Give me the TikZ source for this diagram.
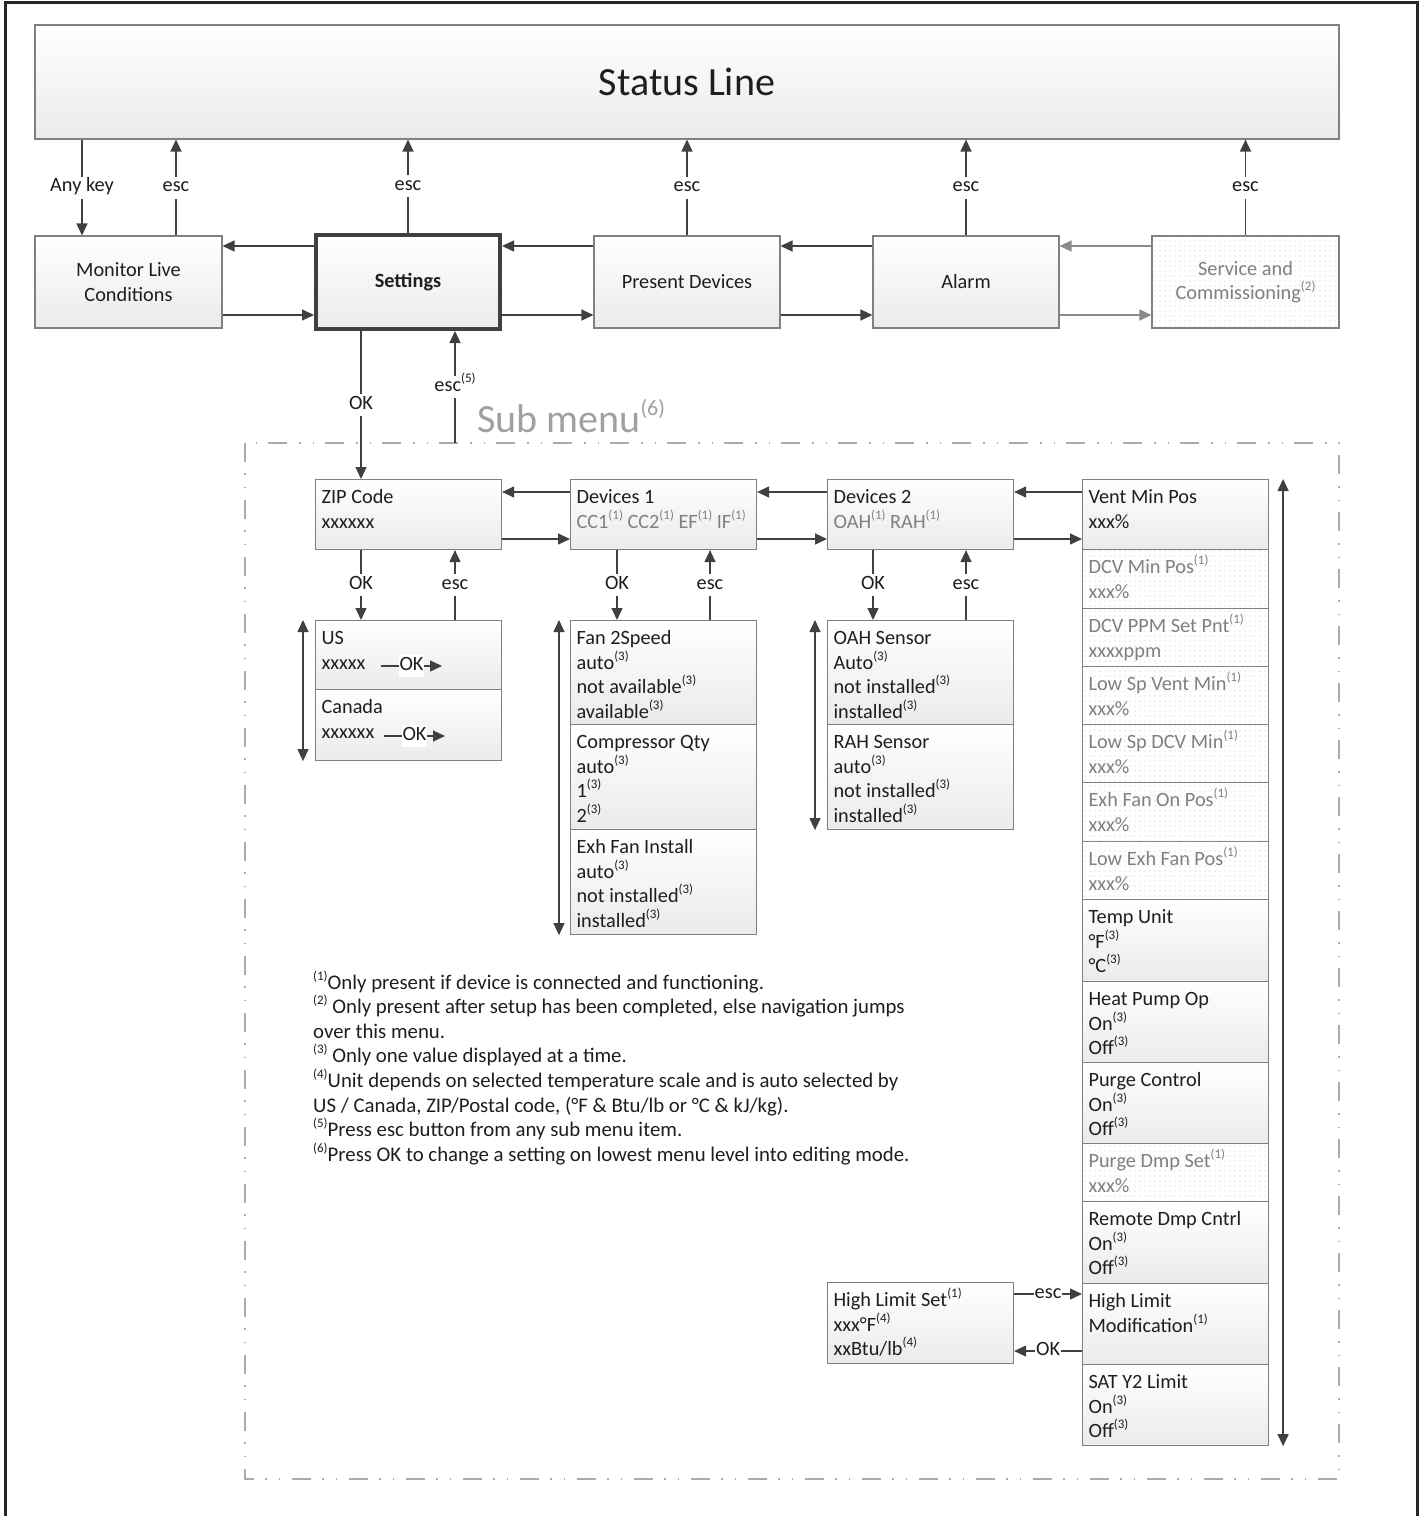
\documentclass[tikz,border=0pt]{standalone}
\usepackage{fontspec}
\setmainfont{Carlito}
\usetikzlibrary{arrows.meta,patterns.meta}
\definecolor{bordc}{HTML}{808080}
\definecolor{txtc}{HTML}{1E1E1E}
\definecolor{graytxt}{HTML}{808080}
\definecolor{arrc}{HTML}{404040}
\definecolor{lightarr}{HTML}{8A8A8A}
\definecolor{dashc}{HTML}{ABABAB}
\definecolor{framec}{HTML}{262626}
\definecolor{submc}{HTML}{A0A0A0}
\newcommand{\ssup}[1]{\raisebox{9pt}{\fontsize{13}{13}\selectfont(#1)}}
\newcommand{\mnbox}[7]{\node[#6] (#1) at (#2,#3) {\parbox[c][#5pt][t]{#4pt}{\leftskip=6pt\relax\rule{0pt}{24pt}#7}};}
\tikzset{
  base/.style={inner sep=0pt, font=\fontsize{20.3}{24.5}\selectfont, text=txtc},
  shadebox/.style={base, draw=bordc, line width=1.1pt, top color=white, bottom color=black!8},
  dotfill/.style={base, draw=bordc, line width=1.1pt, fill=white,
     postaction={pattern={Dots[distance=5pt,radius=0.55pt]}, pattern color=black!22}, text=graytxt},
  mbox/.style={shadebox, anchor=north west},
  dbox/.style={dotfill, anchor=north west},
  cbox/.style={shadebox, align=center, minimum height=92pt},
  arr/.style={draw=arrc, line width=1.3pt, -{Triangle[length=12pt,width=11pt]}},
  arrl/.style={draw=lightarr, line width=1.3pt, -{Triangle[length=12pt,width=11pt]}},
  darr/.style={draw=arrc, line width=1.3pt, {Triangle[length=12pt,width=11pt]}-{Triangle[length=12pt,width=11pt]}},
  lbl/.style={base, fill=white, inner xsep=2pt, inner ysep=3pt, text height=12pt, text depth=4pt},
  subframe/.style={draw=dashc, line width=2.6pt, dash pattern=on 19pt off 11pt on 1.5pt off 12pt on 1.5pt off 12pt},
}
\begin{document}
\begin{tikzpicture}[x=1pt,y=-1pt]
\useasboundingbox (0,0) rectangle (1422,1516);
% outer frame
\draw[framec, line width=3pt] (5.5,1516) -- (5.5,2.5) -- (1417,2.5) -- (1417,1516);

% status line
\node[shadebox, minimum width=1304pt, minimum height=114pt, font=\fontsize{40}{48}\selectfont] (status) at (687,82) {Status Line};

% top row
\node[cbox, minimum width=187pt] (monitor) at (128.5,282) {Monitor Live\\Conditions};
\node[cbox, draw=arrc, line width=4pt, minimum width=184pt, minimum height=94pt, font=\fontsize{20.3}{24.5}\selectfont\bfseries] (settings) at (408,282) {Settings};
\node[cbox, minimum width=186pt] (present) at (687,282) {Present Devices};
\node[cbox, minimum width=186pt] (alarm) at (966,282) {Alarm};
\node[dotfill, align=center, minimum width=187pt, minimum height=92pt] (service) at (1245.5,282) {Service and\\Commissioning\ssup{2}};

\draw[arr] (status.south -| 82,0) -- node[lbl]{Any key} (monitor.north -| 82,0);
\draw[arr] (monitor.north -| 176,0) -- node[lbl]{esc} (status.south -| 176,0);
\draw[arr] (settings.north) -- node[lbl]{esc} (status.south -| settings.north);
\draw[arr] (present.north) -- node[lbl]{esc} (status.south -| present.north);
\draw[arr] (alarm.north) -- node[lbl]{esc} (status.south -| alarm.north);
\draw[arr] (service.north) -- node[lbl]{esc} (status.south -| service.north);

\draw[arr] (settings.west |- 0,246) -- (monitor.east |- 0,246);
\draw[arr] (monitor.east |- 0,315) -- (settings.west |- 0,315);
\draw[arr] (present.west |- 0,246) -- (settings.east |- 0,246);
\draw[arr] (settings.east |- 0,315) -- (present.west |- 0,315);
\draw[arr] (alarm.west |- 0,246) -- (present.east |- 0,246);
\draw[arr] (present.east |- 0,315) -- (alarm.west |- 0,315);
\draw[arrl] (service.west |- 0,246) -- (alarm.east |- 0,246);
\draw[arrl] (alarm.east |- 0,315) -- (service.west |- 0,315);

% sub menu frame
\draw[subframe] (245,443) rectangle (1339,1479);
\node[base, anchor=base west, text=submc, font=\fontsize{40}{48}\selectfont] (submenu) at (477,432) {Sub menu\raisebox{17pt}{\fontsize{22}{22}\selectfont(6)}};

% sub row
\mnbox{zip}{315}{479}{186}{70}{mbox}{ZIP Code\\xxxxxx}
\mnbox{devA}{570}{479}{186}{70}{mbox}{Devices 1\\\textcolor{graytxt}{CC1\ssup{1} CC2\ssup{1} EF\ssup{1} IF\ssup{1}}}
\mnbox{devB}{827}{479}{186}{70}{mbox}{Devices 2\\\textcolor{graytxt}{OAH\ssup{1} RAH\ssup{1}}}
\mnbox{vent}{1082}{479}{186}{70}{mbox}{Vent Min Pos\\xxx\%}

\coordinate (subtop) at (455,443);
\draw[arr] (settings.south -| 361,0) -- node[lbl]{OK} (zip.north -| 361,0);
\draw[arr] (subtop) -- node[lbl]{esc\ssup{5}} (settings.south -| subtop);

\draw[arr] (devA.west |- 0,492) -- (zip.east |- 0,492);
\draw[arr] (zip.east |- 0,539) -- (devA.west |- 0,539);
\draw[arr] (devB.west |- 0,492) -- (devA.east |- 0,492);
\draw[arr] (devA.east |- 0,539) -- (devB.west |- 0,539);
\draw[arr] (vent.west |- 0,492) -- (devB.east |- 0,492);
\draw[arr] (devB.east |- 0,539) -- (vent.west |- 0,539);

% lists
\mnbox{us}{315}{620}{186}{69}{mbox}{US\\xxxxx}
\mnbox{can}{315}{689}{186}{71}{mbox}{Canada\\xxxxxx}
\mnbox{fan}{570}{620}{186}{104}{mbox}{Fan 2Speed\\auto\ssup{3}\\not available\ssup{3}\\available\ssup{3}}
\mnbox{comp}{570}{724}{186}{105}{mbox}{Compressor Qty\\auto\ssup{3}\\1\ssup{3}\\2\ssup{3}}
\mnbox{exh}{570}{829}{186}{105}{mbox}{Exh Fan Install\\auto\ssup{3}\\not installed\ssup{3}\\installed\ssup{3}}
\mnbox{oah}{827}{620}{186}{104}{mbox}{OAH Sensor\\Auto\ssup{3}\\not installed\ssup{3}\\installed\ssup{3}}
\mnbox{rah}{827}{724}{186}{105}{mbox}{RAH Sensor\\auto\ssup{3}\\not installed\ssup{3}\\installed\ssup{3}}

\draw[arr] (zip.south -| 361,0) -- node[lbl]{OK} (us.north -| 361,0);
\draw[arr] (us.north -| 455,0) -- node[lbl]{esc} (zip.south -| 455,0);
\draw[arr] (devA.south -| 617,0) -- node[lbl]{OK} (fan.north -| 617,0);
\draw[arr] (fan.north -| 710,0) -- node[lbl]{esc} (devA.south -| 710,0);
\draw[arr] (devB.south -| 873,0) -- node[lbl]{OK} (oah.north -| 873,0);
\draw[arr] (oah.north -| 966,0) -- node[lbl]{esc} (devB.south -| 966,0);

\coordinate (usA) at (381,666);
\coordinate (usB) at (442,666);
\coordinate (canA) at (384,736);
\coordinate (canB) at (445,736);
\draw[arr] (usA) -- node[lbl, inner xsep=1pt]{OK} (usB);
\draw[arr] (canA) -- node[lbl, inner xsep=1pt]{OK} (canB);

\draw[darr] ([xshift=-12pt]us.north west) -- ([xshift=-12pt]can.south west);
\draw[darr] ([xshift=-11pt]fan.north west) -- ([xshift=-11pt]exh.south west);
\draw[darr] ([xshift=-12pt]oah.north west) -- ([xshift=-12pt]rah.south west);

% right column
\mnbox{dcvmin}{1082}{549}{186}{59}{dbox}{DCV Min Pos\ssup{1}\\xxx\%}
\mnbox{dcvppm}{1082}{608}{186}{58}{dbox}{DCV PPM Set Pnt\ssup{1}\\xxxxppm}
\mnbox{lsvent}{1082}{666}{186}{58}{dbox}{Low Sp Vent Min\ssup{1}\\xxx\%}
\mnbox{lsdcv}{1082}{724}{186}{58}{dbox}{Low Sp DCV Min\ssup{1}\\xxx\%}
\mnbox{exhon}{1082}{782}{186}{59}{dbox}{Exh Fan On Pos\ssup{1}\\xxx\%}
\mnbox{lowexh}{1082}{841}{186}{58}{dbox}{Low Exh Fan Pos\ssup{1}\\xxx\%}
\mnbox{temp}{1082}{899}{186}{82}{mbox}{Temp Unit\\°F\ssup{3}\\°C\ssup{3}}
\mnbox{heat}{1082}{981}{186}{81}{mbox}{Heat Pump Op\\On\ssup{3}\\Off\ssup{3}}
\mnbox{purge}{1082}{1062}{186}{81}{mbox}{Purge Control\\On\ssup{3}\\Off\ssup{3}}
\mnbox{purgedmp}{1082}{1143}{186}{58}{dbox}{Purge Dmp Set\ssup{1}\\xxx\%}
\mnbox{remote}{1082}{1201}{186}{82}{mbox}{Remote Dmp Cntrl\\On\ssup{3}\\Off\ssup{3}}
\mnbox{hlm}{1082}{1283}{186}{81}{mbox}{High Limit\\Modification\ssup{1}}
\mnbox{sat}{1082}{1364}{186}{81}{mbox}{SAT Y2 Limit\\On\ssup{3}\\Off\ssup{3}}
\mnbox{hls}{827}{1282}{186}{81}{mbox}{High Limit Set\ssup{1}\\xxx°F\ssup{4}\\xxBtu/lb\ssup{4}}

\draw[darr] ([xshift=14pt]vent.north east) -- ([xshift=14pt]sat.south east);
\draw[arr] (hls.east |- 0,1294) -- node[lbl, inner xsep=1pt]{esc} (hlm.west |- 0,1294);
\draw[arr] (hlm.west |- 0,1351) -- node[lbl, inner xsep=1pt]{OK} (hls.east |- 0,1351);

% footnotes
\node[base, anchor=base west] (notes) at (313,989) {\parbox[t]{740pt}{\fontsize{20.8}{24.6}\selectfont
\ssup{1}Only present if device is connected and functioning.\\
\ssup{2} Only present after setup has been completed, else navigation jumps\\
over this menu.\\
\ssup{3} Only one value displayed at a time.\\
\ssup{4}Unit depends on selected temperature scale and is auto selected by\\
US / Canada, ZIP/Postal code, (°F \& Btu/lb or °C \& kJ/kg).\\
\ssup{5}Press esc button from any sub menu item.\\
\ssup{6}Press OK to change a setting on lowest menu level into editing mode.}};
\end{tikzpicture}
\end{document}
